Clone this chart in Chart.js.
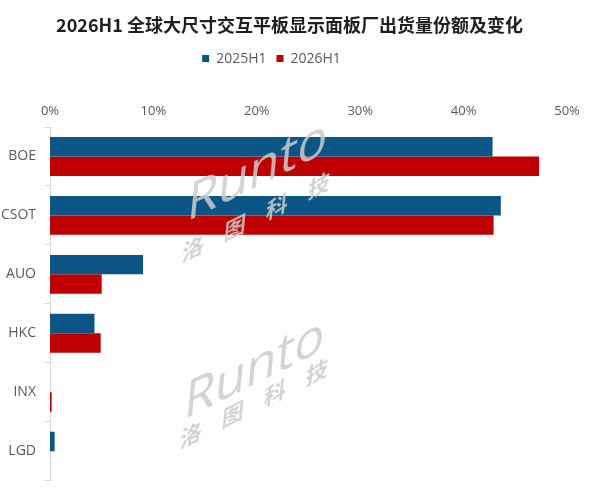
<!DOCTYPE html>
<html>
<head>
<meta charset="utf-8">
<script src="https://cdn.jsdelivr.net/npm/chart.js@4"></script>
<style>
  html, body { margin: 0; padding: 0; background: #fff; }
  #wrap { width: 592px; height: 498px; }
</style>
</head>
<body>
<div id="wrap"><canvas id="c" width="592" height="498"></canvas></div>
<script>
const categories = ["BOE", "CSOT", "AUO", "HKC", "INX", "LGD"]
const share2025 = [42.8, 43.6, 9.0, 4.3, 0.0, 0.45]
const share2026 = [47.3, 42.9, 5.0, 4.9, 0.16, 0.0]
const xTicks = [0, 10, 20, 30, 40, 50]

const textColor = "#595959"
const axisColor = "#d9d9d9"
const font = "'Open Sans', 'Noto Sans', sans-serif"

// the title and legend in the original are not centred on the plot; nudge them
const nudgeHeader = {
  id: "nudgeHeader",
  afterLayout(chart) {
    const shift = (box, dx) => { if (box) { box.left += dx; box.right += dx } }
    shift(chart.titleBlock, 6)
    shift(chart.legend, -12)
  }
}

// faint sheared "Runto 洛图科技" watermark over the bars
const watermark = {
  id: "watermark",
  afterDatasetsDraw(chart) {
    const ctx = chart.ctx
    const marks = [[186, 222, 30], [183, 420, 19]]
    ctx.save()
    ctx.fillStyle = "rgba(205, 205, 205, 0.85)"
    marks.forEach(([x, y, cy]) => {
      ctx.save()
      ctx.translate(x, y)
      ctx.transform(1, -0.5, 0, 1, 0, 0)
      ctx.transform(1, 0, -0.1, 1, 0, 0)
      ctx.textBaseline = "alphabetic"
      ctx.textAlign = "left"
      ctx.font = "400 50px 'Open Sans', sans-serif"
      ctx.fillText("Runto", 0, 0)
      ctx.textAlign = "center"
      ctx.textBaseline = "middle"
      ctx.font = "bold 22px 'Noto Sans CJK SC', sans-serif"
      ;["洛", "图", "科", "技"].forEach((ch, i) => ctx.fillText(ch, 10 + i * 42, cy))
      ctx.restore()
    })
    ctx.restore()
  }
}

new Chart(document.getElementById("c"), {
  type: "bar",
  data: {
    labels: categories,
    datasets: [
      { label: "2025H1", data: share2025, backgroundColor: "#0c5687" },
      { label: "2026H1", data: share2026, backgroundColor: "#c00000" }
    ]
  },
  options: {
    indexAxis: "y",
    responsive: false,
    animation: false,
    devicePixelRatio: 1,
    layout: { padding: { left: 0, right: 25, top: 0, bottom: 5 } },
    datasets: { bar: { categoryPercentage: 0.66, barPercentage: 1.0 } },
    plugins: {
      title: {
        display: true,
        text: "2026H1 全球大尺寸交互平板显示面板厂出货量份额及变化",
        color: "#1f1f1f",
        font: { family: "'Noto Sans CJK SC', sans-serif", size: 18, weight: "bold" },
        padding: { top: 14, bottom: 6 }
      },
      legend: {
        position: "top",
        labels: {
          color: textColor,
          boxWidth: 7,
          boxHeight: 7,
          padding: 10,
          font: { family: font, size: 14 }
        }
      },
      tooltip: { enabled: false }
    },
    scales: {
      x: {
        position: "top",
        min: 0,
        max: 50,
        afterBuildTicks(scale) { scale.ticks = xTicks.map(v => ({ value: v })) },
        afterFit(scale) {
          const used = (scale.chart.titleBlock ? scale.chart.titleBlock.height : 0) + (scale.chart.legend ? scale.chart.legend.height : 0)
          scale.height = 127 - used
        },
        ticks: { color: textColor, padding: 8, font: { family: font, size: 13 }, callback: v => v + "%" },
        grid: { display: false, drawTicks: false },
        border: { display: false }
      },
      y: {
        afterFit(scale) { scale.width = 50 },
        ticks: { color: textColor, padding: 9, font: { family: font, size: 14 } },
        grid: { display: true, drawOnChartArea: false, tickLength: 5, color: axisColor },
        border: { display: true, color: axisColor }
      }
    }
  },
  plugins: [nudgeHeader, watermark]
})
</script>
</body>
</html>
